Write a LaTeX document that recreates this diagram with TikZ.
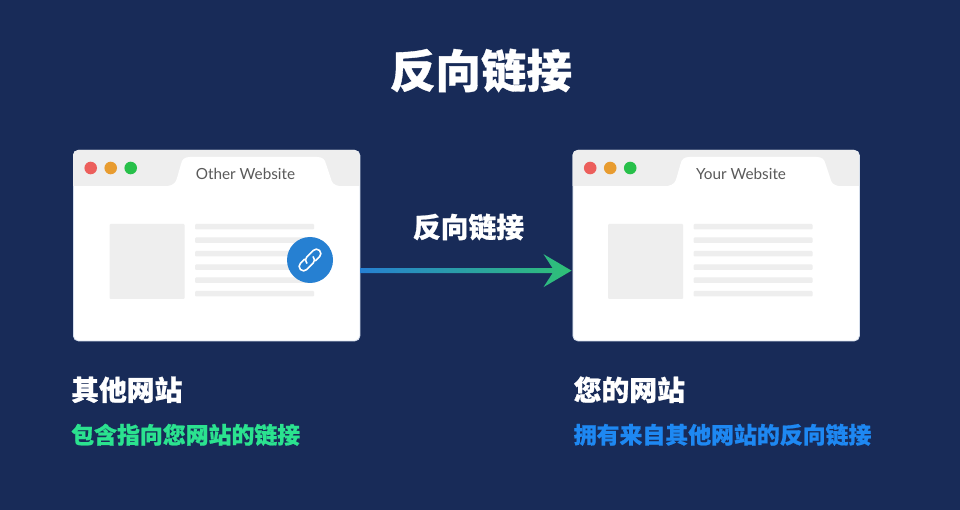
\documentclass[tikz,border=0pt]{standalone}
\usepackage{fontspec}
\newfontfamily\cjk[BoldFeatures={FakeBold=0.8}]{Noto Sans CJK SC}
\newfontfamily\latin{Lato}
\usepackage{xcolor}
\definecolor{navy}{HTML}{182B58}
\definecolor{barg}{HTML}{EEEEEE}
\definecolor{rimg}{HTML}{D5DEEC}
\definecolor{tabtxt}{HTML}{5A5A5A}
\definecolor{dotr}{HTML}{EC5F5C}
\definecolor{doto}{HTML}{E89C30}
\definecolor{dotg}{HTML}{28C04A}
\definecolor{linkb}{HTML}{2680D2}
\definecolor{linkg}{HTML}{2FC176}
\definecolor{subg}{HTML}{2BE28F}
\definecolor{subb}{HTML}{1E88F2}
\usetikzlibrary{positioning,calc}
\tikzset{
  winbox/.style={draw=rimg,line width=0.8pt,fill=white,rounded corners=5pt,minimum width=286.5pt,minimum height=190.5pt,inner sep=0pt,anchor=north west},
  dot/.style={circle,inner sep=0pt,minimum size=12.6pt},
  tablab/.style={font=\latin\fontsize{15.3}{15}\selectfont,text=tabtxt,inner sep=0pt},
  bigt/.style={font=\cjk\bfseries\fontsize{45.5}{46}\selectfont,text=white,inner sep=0pt},
  sitelab/.style={font=\cjk\bfseries\fontsize{27.8}{28}\selectfont,text=white,inner sep=0pt},
  sublab/.style={font=\cjk\bfseries\fontsize{22.9}{23}\selectfont,inner sep=0pt},
  linkic/.style={draw=white,line width=1.6pt,line cap=round},
}
\begin{document}
\begin{tikzpicture}[x=1pt,y=-1pt]
\fill[navy] (0,0) rectangle (960,510);
\useasboundingbox (0,0) rectangle (960,510);
\node[bigt] (title) at (481,70.5) {反向链接};
% the two browser windows
\foreach \nm/\wx/\wtxt/\tx/\cx in {other/73/Other Website/245.5/0,your/572.5/Your Website/741/-1}{
  \node[winbox] (\nm win) at (\wx,150) {};
  \begin{scope}[shift={(\wx,150)}]
    \fill[barg] (0,36) -- (0,5) arc[start angle=180,end angle=270,radius=5] -- (281.5,0) arc[start angle=270,end angle=360,radius=5] -- (286.5,36) -- cycle;
    \fill[white] (95,36) .. controls (101,35) and (103,32) .. (104,28) -- (108,14) .. controls (109,9) and (112,7) .. (117,7) -- (244,7) .. controls (249,7) and (252,9) .. (253,14) -- (258,29) .. controls (259,33) and (261,35) .. (266,36) -- cycle;
    \node[dot,fill=dotr] (\nm dr) at (17.7,18) {};
    \node[dot,fill=doto,right=7pt of \nm dr] (\nm do) {};
    \node[dot,fill=dotg,right=7pt of \nm do] (\nm dg) {};
    \fill[barg,rounded corners=1pt] (36.5+\cx,74) rectangle (111.5+\cx,149);
    \foreach \ly in {74,87.5,101,114.5,127.5,141}
      \fill[barg,rounded corners=1pt] (122+\cx,\ly) rectangle (241+\cx,\ly+5.5);
  \end{scope}
  \node[tablab] (\nm tab) at (\tx,174) {\wtxt};
}
% link badge on the left window
\node[circle,fill=linkb,inner sep=0pt,minimum size=46pt] (badge) at (310,260) {};
\begin{scope}[shift={(badge.center)},rotate=45]
  \draw[linkic] (-4.5,0) arc[start angle=180,end angle=270,radius=4.5] -- (9,-4.5) arc[start angle=-90,end angle=90,radius=4.5] -- (3.5,4.5);
  \draw[linkic] (4.5,0) arc[start angle=0,end angle=90,radius=4.5] -- (-9,4.5) arc[start angle=90,end angle=270,radius=4.5] -- (-3.5,-4.5);
\end{scope}
% gradient arrow between the windows
\coordinate (arrs) at ($(otherwin.east)+(0,25)$);
\coordinate (arre) at ($(yourwin.west)+(-1,25)$);
\shade[left color=linkb,right color=linkg]
  ($(arrs)+(0,2.6)$) -- ($(arre)+(-19,2.6)$) -- ($(arre)+(-28,16.5)$) -- (arre) -- ($(arre)+(-28,-16.5)$) -- ($(arre)+(-19,-2.6)$) -- ($(arrs)+(0,-2.6)$) -- cycle;
\node[sitelab] (arrlab) at (468.5,227) {反向链接};
% captions
\node[sitelab,below=48.5pt of otherwin.south west,anchor=west,xshift=-2pt] (otherlab) {其他网站};
\node[sublab,text=subg,below=45pt of otherlab.west,anchor=west] (othersub) {包含指向您网站的链接};
\node[sitelab,below=48.5pt of yourwin.south west,anchor=west,xshift=1pt] (yourlab) {您的网站};
\node[sublab,text=subb,below=45pt of yourlab.west,anchor=west] (yoursub) {拥有来自其他网站的反向链接};
\end{tikzpicture}
\end{document}
